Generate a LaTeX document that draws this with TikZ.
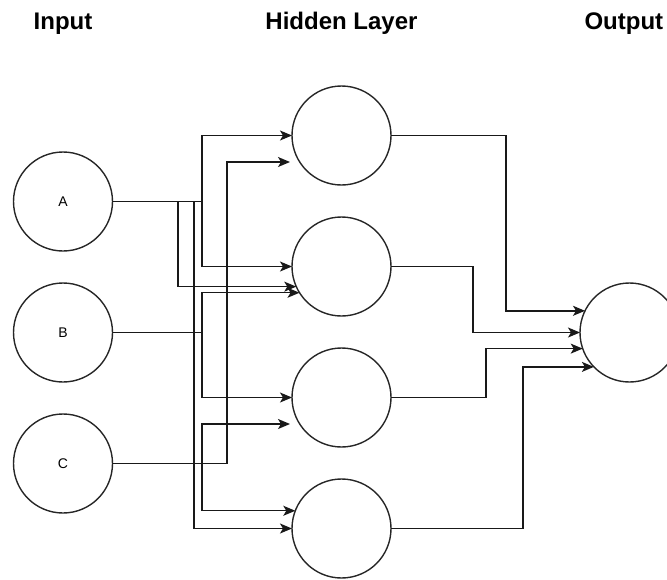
\documentclass[tikz,border=0pt]{standalone}
\usepackage{fontspec}
\setmainfont{Liberation Sans}
\usetikzlibrary{arrows.meta,calc}
\begin{document}
\begin{tikzpicture}[x=1pt,y=-1pt,
  neuron/.style={circle,draw=black!85,line width=1.4pt,minimum size=99pt,
    inner sep=0pt,outer sep=0pt,font=\fontsize{14}{16}\selectfont},
  conn/.style={line width=1.4pt,draw=black!90,
    -{Stealth[length=12pt,width=10pt,inset=3pt]}},
  heading/.style={font=\fontsize{24}{28}\selectfont\bfseries,anchor=base}]
\useasboundingbox (0,0) rectangle (667,579);
\begin{scope}
\clip (0,0) rectangle (667,579);

% column headings
\node[heading] (tin) at (63,29) {Input};
\node[heading] (thid) at (341.5,29) {Hidden Layer};
\node[heading,anchor=base west] (tout) at (581,29) {Output};

% input layer
\node[neuron] (A) at (63,201.5) {A};
\node[neuron] (B) at (63,332.5) {B};
\node[neuron] (C) at (63,463.5) {C};

% hidden layer
\node[neuron] (H1) at (341.5,135.5) {};
\node[neuron] (H2) at (341.5,266.5) {};
\node[neuron] (H3) at (341.5,397.5) {};
\node[neuron] (H4) at (341.5,528.5) {};

% output layer
\node[neuron] (O) at (629.5,332.5) {};

% vertical routing channels
\coordinate (xa) at (178,0);
\coordinate (xb) at (194,0);
\coordinate (xm) at (202,0);
\coordinate (xc) at (227,0);
\coordinate (x2) at (473,0);
\coordinate (x3) at (486,0);
\coordinate (x1) at (506,0);
\coordinate (x4) at (523,0);

% input -> hidden
\draw[conn] (A.east) -- (A.east -| xm) |- (H1.west);
\draw[conn] (A.east) -- (A.east -| xm) |- (H2.west);
\draw[conn] (A.east) -- (A.east -| xa) |- (H2.204.5);
\draw[conn] (A.east) -- (A.east -| xb) |- (H4.west);
\draw[conn] (B.east) -- (B.east -| xm) |- (H2.212.4);
\draw[conn] (B.east) -- (B.east -| xm) |- (H3.west);
\draw[conn] (C.east) -- (C.east -| xc) |- ($(H1.west)+(-2,26.5)$);
\draw[conn] (C.east) -- (C.east -| xm) |- ($(H3.west)+(-2,26.5)$);
\draw[conn] (C.east) -- (C.east -| xm) |- (H4.159.3);

% hidden -> output
\draw[conn] (H1.east) -- (H1.east -| x1) |- (O.154.3);
\draw[conn] (H2.east) -- (H2.east -| x2) |- (O.west);
\draw[conn] (H3.east) -- (H3.east -| x3) |- (O.199.5);
\draw[conn] (H4.east) -- (H4.east -| x4) |- (O.224.2);
\end{scope}
\end{tikzpicture}
\end{document}
